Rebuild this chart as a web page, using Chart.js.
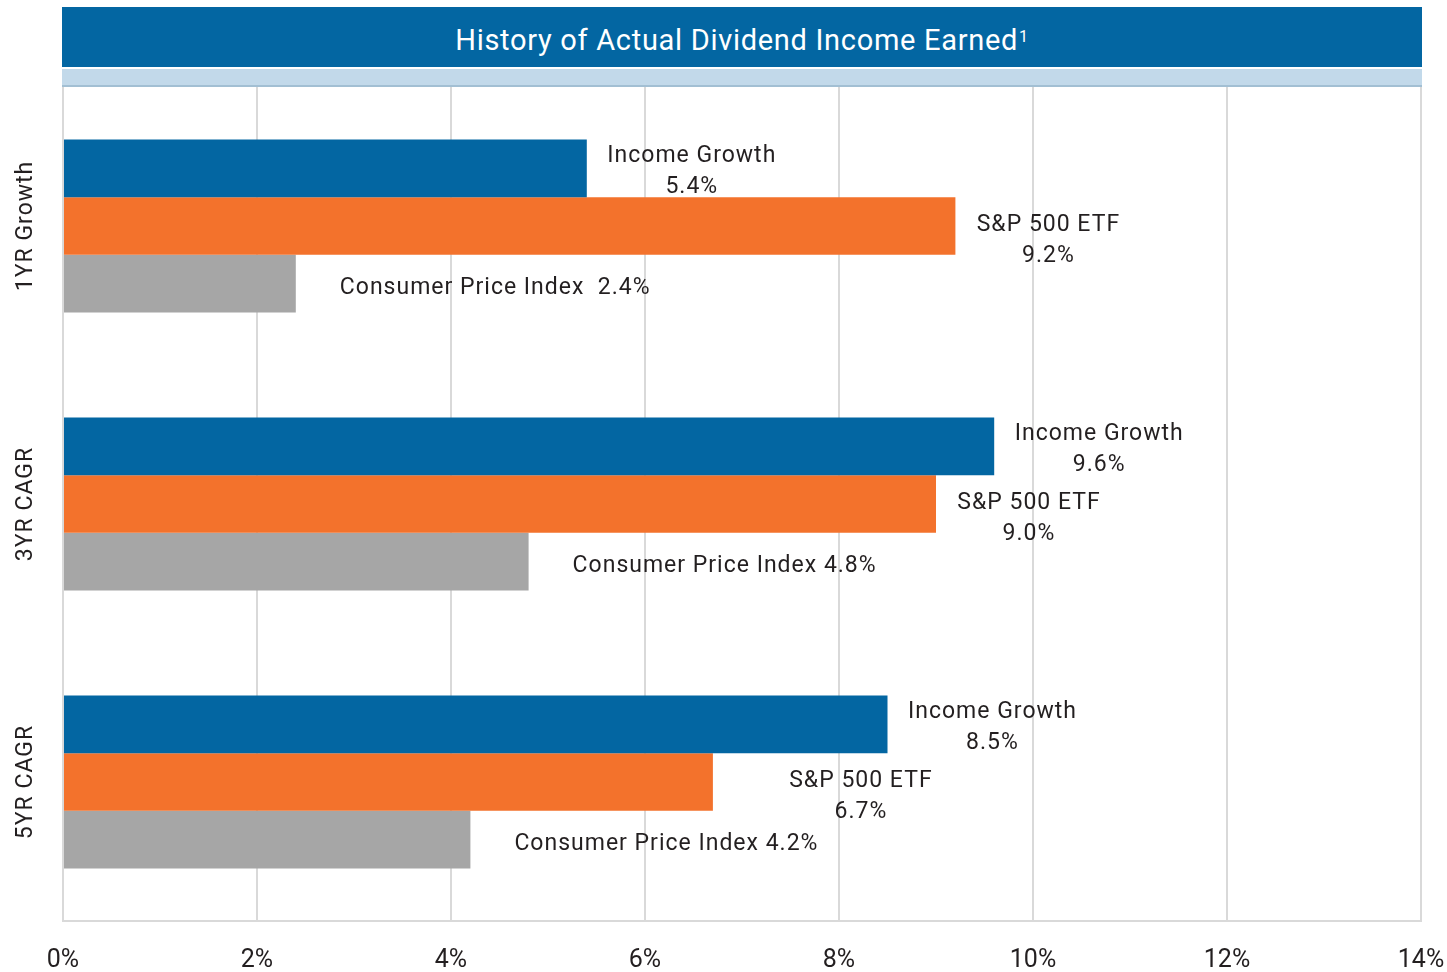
<!DOCTYPE html>
<html>
<head>
<meta charset="utf-8">
<script src="https://cdn.jsdelivr.net/npm/chart.js@4.4.1/dist/chart.umd.min.js"></script>
<style>
  body { margin: 0; background: #fff; }
  #wrap { position: relative; width: 1447px; height: 972px; }
  #title {
    position: absolute; left: 62px; top: 7px; width: 1360px; height: 60px;
    background: #0366a2; color: #fff; z-index: 2; box-sizing: border-box; padding-top: 5px;
    font-family: Roboto, "Open Sans", sans-serif; font-size: 29px; letter-spacing: 0.7px;
    display: flex; align-items: center; justify-content: center;
  }
  #title sup { font-size: 16px; position: relative; top: -3px; margin-left: 1px; }
  #strip {
    position: absolute; left: 62px; top: 69px; width: 1360px; height: 16px;
    background: #c2d9ea; border-bottom: 2px solid #a2bfd3; z-index: 2;
  }
  canvas { position: absolute; left: 0; top: 0; }
</style>
</head>
<body>
<div id="wrap">
  <div id="title">History of Actual Dividend Income Earned<sup>1</sup></div>
  <div id="strip"></div>
  <canvas id="myChart" width="1447" height="972"></canvas>
</div>
<script>
var categories = ["1YR Growth", "3YR CAGR", "5YR CAGR"] ;
var incomeGrowth = [5.4, 9.6, 8.5] ;
var sp500 = [9.2, 9.0, 6.7] ;
var cpi = [2.4, 4.8, 4.2] ;
var seriesNames = ["Income Growth", "S&P 500 ETF", "Consumer Price Index"] ;
var xTicks = [0, 2, 4, 6, 8, 10, 12, 14] ;

var textColor = "#231f20" ;
var labelFont = "23px Roboto, 'Open Sans', sans-serif" ;

// draws the rotated category names and the value notes next to each bar
var labelPlugin = {
    id : "barNotes" ,
    afterDatasetsDraw : function(chart){
        var ctx = chart.ctx ;
        var yScale = chart.scales.y ;
        ctx.save() ;
        ctx.fillStyle = textColor ;
        ctx.font = labelFont ;
        ctx.letterSpacing = "1px" ;

        // category names
        for(let i = 0 ; i < categories.length ; i += 1){
            var cy = yScale.getPixelForValue(i) ;
            ctx.save() ;
            ctx.translate(26 , cy) ;
            ctx.rotate(-Math.PI / 2) ;
            ctx.textAlign = "center" ;
            ctx.textBaseline = "middle" ;
            ctx.fillText(categories[i] , 0 , 0) ;
            ctx.restore() ;
        }

        // bar notes
        chart.data.datasets.forEach(function(ds , d){
            var meta = chart.getDatasetMeta(d) ;
            meta.data.forEach(function(bar , i){
                var val = ds.data[i].toFixed(1) + "%" ;
                if(d == 2){
                    ctx.textAlign = "left" ;
                    ctx.textBaseline = "middle" ;
                    var gap = i == 0 ? "  " : " " ;
                    ctx.fillText(ds.label + gap + val , bar.x + 44 , bar.y + 5) ;
                } else {
                    ctx.textAlign = "center" ;
                    ctx.textBaseline = "middle" ;
                    var dx = d == 0 ? 105 : 93 ;
                    if(d == 1 && i == 2) dx = 148 ;
                    var dy = d == 0 ? -12 : -1 ;
                    ctx.fillText(ds.label , bar.x + dx , bar.y + dy) ;
                    ctx.fillText(val , bar.x + dx , bar.y + dy + 31) ;
                }
            }) ;
        }) ;
        ctx.restore() ;
    }
} ;

var chart = new Chart(document.getElementById("myChart").getContext("2d") , {
    type : "bar" ,
    data : {
        labels : categories ,
        datasets : [
            { label : seriesNames[0] , data : incomeGrowth , backgroundColor : "#0366a2" } ,
            { label : seriesNames[1] , data : sp500 , backgroundColor : "#f3722c" } ,
            { label : seriesNames[2] , data : cpi , backgroundColor : "#a6a6a6" }
        ]
    } ,
    options : {
        indexAxis : "y" ,
        responsive : false ,
        animation : false ,
        layout : { padding : { top : 87 , right : 26 , left : 0 , bottom : 0 } } ,
        datasets : { bar : { categoryPercentage : 0.622 , barPercentage : 1 } } ,
        plugins : { legend : { display : false } , tooltip : { enabled : false } } ,
        scales : {
            x : {
                min : 0 , max : 14 ,
                afterBuildTicks : function(scale){
                    scale.ticks = xTicks.map(function(v){ return { value : v } ; }) ;
                } ,
                afterFit : function(scale){
                    scale.height = 51 ;
                    scale.paddingRight = 0 ;
                    scale.paddingLeft = 0 ;
                } ,
                grid : { color : "#d9d9d9" , lineWidth : 2 , drawTicks : false } ,
                border : { color : "#d9d9d9" , width : 2 } ,
                ticks : {
                    padding : 25 ,
                    color : textColor ,
                    font : { family : "Roboto, 'Open Sans', sans-serif" , size : 25 } ,
                    maxRotation : 0 ,
                    callback : function(v){ return v + "%" ; }
                }
            } ,
            y : {
                afterFit : function(scale){ scale.width = 63 ; } ,
                grid : { display : false } ,
                border : { color : "#d9d9d9" , width : 2 } ,
                ticks : { display : false }
            }
        }
    } ,
    plugins : [labelPlugin]
}) ;
</script>
</body>
</html>
